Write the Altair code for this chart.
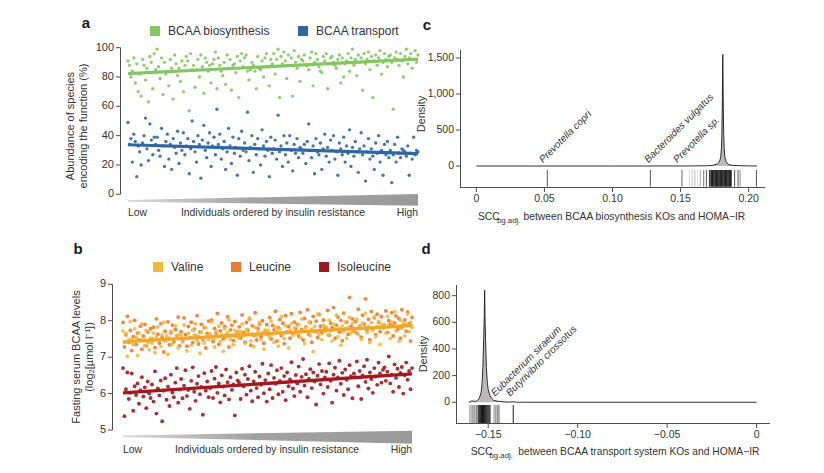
import altair as alt
import pandas as pd

FONT = "Liberation Sans"
TXT = "#333333"
AXC = "#4d4d4d"

# ---------------- panel a data ----------------
bcaa_biosynthesis = [
    91, 88, 80, 84, 93, 76, 89, 70, 82, 67, 92, 88, 78, 86, 63, 94, 90, 72, 96, 85,
    99, 87, 79, 93, 68, 90, 82, 84, 74, 92, 86, 65, 95, 89, 81, 86, 77, 91, 70, 88,
    94, 91, 57, 96, 85, 88, 73, 85, 92, 80, 95, 87, 69, 93, 90, 84, 88, 76, 89, 92,
    97, 72, 93, 88, 84, 81, 90, 75, 95, 86, 92, 71, 88, 89, 83, 94, 66, 91, 96, 87,
    93, 95, 84, 78, 85, 90, 88, 84, 72, 94, 86, 85, 91, 80, 93, 96, 87, 74, 92, 89,
    96, 82, 92, 99, 66, 94, 89, 97, 91, 79, 95, 88, 93, 67, 98, 90, 86, 94, 77, 92,
    91, 95, 88, 88, 85, 93, 97, 74, 90, 96, 92, 87, 84, 83, 94, 91, 96, 72, 89, 93,
    94, 90, 88, 86, 92, 95, 76, 93, 80, 89, 91, 96, 84, 93, 99, 88, 92, 81, 95, 90,
    93, 71, 96, 89, 92, 97, 85, 94, 66, 91, 95, 88, 93, 98, 82, 90, 96, 92, 87, 94,
    95, 90, 58, 93, 97, 92, 88, 96, 91, 80, 94, 99, 89, 93, 96, 86, 92, 98, 90, 95,
]
bcaa_transport = [
    49, 34, 38, 22, 41, 36, 12, 33, 29, 20, 35, 40, 52, 31, 23, 48, 37, 27, 39, 34,
    39, 30, 26, 45, 33, 19, 36, 41, 24, 34, 17, 38, 32, 28, 43, 21, 35, 30, 42, 27,
    33, 38, 14, 31, 50, 36, 29, 22, 40, 34, 11, 37, 47, 30, 25, 35, 42, 19, 33, 39,
    27, 58, 34, 41, 24, 31, 36, 17, 29, 45, 33, 21, 39, 28, 32, 13, 38, 26, 43, 30,
    35, 29, 56, 23, 32, 40, 15, 34, 27, 38, 31, 20, 44, 33, 26, 36, 30, 12, 39, 28,
    31, 37, 24, 54, 29, 33, 19, 40, 27, 35, 22, 40, 30, 16, 34, 28, 38, 25, 32, 31,
    28, 34, 21, 36, 48, 30, 25, 33, 14, 38, 29, 27, 35, 17, 31, 41, 26, 32, 22, 37,
    30, 40, 24, 29, 13, 35, 31, 27, 39, 22, 33, 28, 44, 19, 32, 26, 36, 29, 15, 31,
    42, 27, 33, 9, 29, 38, 24, 31, 26, 17, 35, 28, 40, 22, 30, 13, 34, 27, 36, 25,
    30, 8, 27, 34, 22, 39, 28, 25, 31, 30, 29, 26, 33, 13, 28, 24, 39, 27, 30, 29,
]
fit_biosynthesis = [82.3, 92.2]
fit_transport = [33.8, 27.8]
wedge_a_top = [-3.9, 0.2]
wedge_a_bottom = [-5.0, -7.8]
a_yticks = [0, 20, 40, 60, 80, 100]
a_ytick_labels = ["0", "20", "40", "60", "80", "100"]

# ---------------- panel b data ----------------
valine = [
    7.72, 7.41, 7.65, 7.02, 7.48, 7.98, 7.49, 7.35, 7.78, 7.54, 7.05, 7.67, 7.46, 7.91, 7.49, 7.32, 7.73, 7.41, 7.20, 7.52,
    7.38, 7.66, 7.12, 7.55, 7.83, 7.47, 7.29, 7.61, 7.95, 7.44, 7.58, 7.08, 7.52, 7.71, 7.36, 7.49, 7.86, 7.57, 7.25, 7.63,
    7.59, 7.42, 7.88, 7.51, 7.17, 7.66, 7.54, 7.33, 7.74, 7.60, 7.92, 7.45, 7.57, 7.10, 7.69, 7.52, 7.39, 7.81, 7.58, 7.48,
    7.64, 7.97, 7.50, 7.28, 7.71, 7.58, 7.85, 7.43, 7.62, 7.16, 7.78, 7.55, 7.67, 8.02, 7.49, 7.61, 7.34, 7.73, 7.57, 7.69,
    7.52, 7.70, 7.91, 7.61, 7.38, 7.76, 7.66, 8.08, 7.45, 7.63, 7.29, 7.82, 7.59, 7.71, 7.95, 7.48, 7.67, 7.22, 7.74, 7.62,
    7.73, 7.56, 7.99, 7.64, 7.41, 7.83, 7.70, 7.30, 7.77, 8.12, 7.62, 7.51, 7.86, 7.69, 7.25, 7.74, 7.92, 7.60, 7.81, 7.66,
    7.66, 7.89, 7.54, 8.05, 7.74, 7.37, 7.81, 7.70, 7.96, 7.59, 7.77, 7.15, 7.84, 7.69, 8.18, 7.63, 7.75, 7.48, 7.88, 7.71,
    7.82, 7.61, 8.01, 7.73, 7.44, 7.90, 7.78, 8.15, 7.56, 7.79, 7.33, 7.86, 7.70, 7.97, 7.52, 7.81, 8.09, 7.67, 7.92, 7.75,
    7.77, 8.04, 7.62, 7.86, 7.49, 7.93, 7.80, 8.21, 7.68, 7.84, 7.40, 7.95, 7.74, 8.11, 7.57, 7.83, 7.98, 7.35, 7.88, 7.79,
    7.90, 7.66, 8.12, 7.83, 7.51, 7.96, 7.87, 8.25, 7.72, 7.84, 7.44, 8.01, 7.79, 7.93, 7.58, 7.89, 8.18, 7.70, 7.95, 7.82,
]
leucine = [
    7.95, 7.28, 7.61, 8.12, 7.40, 7.73, 7.18, 7.56, 8.01, 7.35, 7.66, 7.47, 7.85, 7.22, 7.58, 7.90, 7.31, 7.69, 7.44, 7.78,
    7.50, 7.82, 7.26, 8.05, 7.63, 7.39, 7.92, 7.55, 7.14, 7.71, 7.48, 7.97, 7.34, 7.67, 7.88, 7.42, 7.76, 7.59, 8.10, 7.31,
    7.70, 7.45, 8.08, 7.62, 7.30, 7.84, 7.53, 7.96, 7.40, 7.77, 7.58, 8.14, 7.36, 7.69, 7.90, 7.48, 7.81, 7.25, 7.65, 7.99,
    7.57, 8.02, 7.43, 7.79, 7.66, 8.20, 7.35, 7.72, 7.94, 7.50, 7.84, 7.61, 8.11, 7.28, 7.75, 7.88, 7.46, 7.98, 7.63, 7.70,
    7.83, 7.52, 8.16, 7.68, 7.41, 7.95, 7.74, 8.05, 7.33, 7.86, 7.60, 8.22, 7.47, 7.79, 7.91, 7.56, 8.00, 7.38, 7.72, 7.89,
    7.64, 8.09, 7.50, 7.87, 7.75, 8.26, 7.44, 7.81, 8.03, 7.59, 7.93, 7.37, 8.14, 7.70, 7.84, 7.52, 8.19, 7.66, 7.96, 7.78,
    7.90, 7.58, 8.23, 7.76, 7.47, 8.06, 7.83, 8.30, 7.62, 7.95, 7.41, 8.12, 7.71, 7.99, 7.54, 8.17, 7.85, 7.67, 8.02, 7.80,
    7.74, 8.28, 7.60, 7.93, 7.81, 8.36, 7.52, 7.88, 8.10, 7.69, 8.01, 7.45, 8.21, 7.77, 7.96, 7.63, 8.64, 7.84, 8.05, 7.72,
    7.98, 7.66, 8.32, 7.85, 7.55, 8.15, 7.91, 8.60, 7.73, 8.04, 7.48, 8.25, 7.80, 8.08, 7.62, 8.18, 7.95, 7.70, 8.11, 7.87,
    7.82, 8.27, 7.68, 8.00, 7.90, 8.22, 7.58, 7.94, 8.13, 7.76, 8.06, 7.52, 8.30, 7.86, 8.02, 7.71, 8.24, 7.92, 7.44, 8.09,
]
isoleucine = [
    6.70, 5.38, 6.12, 6.58, 5.85, 6.02, 6.55, 5.53, 6.20, 5.96, 6.28, 5.72, 6.09, 6.45, 5.92, 6.17, 5.60, 6.33, 6.00, 5.88,
    6.25, 5.78, 6.61, 5.45, 6.14, 5.95, 6.36, 5.24, 6.08, 6.42, 5.83, 6.19, 5.66, 6.52, 6.03, 5.90, 6.30, 6.70, 5.75, 6.11,
    6.40, 5.87, 6.22, 6.64, 5.93, 6.10, 5.58, 6.35, 6.72, 6.05, 5.80, 6.27, 6.48, 5.98, 6.18, 5.42, 6.56, 6.08, 6.33, 5.90,
    6.15, 6.62, 5.88, 6.41, 6.73, 6.02, 6.28, 5.76, 6.50, 6.19, 5.95, 6.66, 6.31, 5.84, 6.45, 6.10, 6.25, 5.40, 6.58, 6.36,
    6.30, 5.85, 6.68, 6.20, 6.52, 5.97, 6.40, 6.75, 6.08, 5.79, 6.33, 6.60, 6.15, 5.90, 6.47, 6.24, 6.82, 6.01, 6.37, 5.78,
    6.55, 6.12, 6.78, 5.88, 6.43, 6.27, 6.64, 5.98, 6.35, 6.70, 6.05, 6.48, 5.82, 6.58, 6.20, 6.39, 6.86, 6.14, 5.93, 6.51,
    6.28, 6.74, 6.05, 6.46, 6.95, 6.22, 6.53, 5.90, 6.40, 6.67, 6.15, 6.58, 6.33, 5.70, 6.49, 6.81, 6.25, 6.62, 6.00, 6.44,
    6.60, 6.18, 6.83, 6.35, 5.75, 6.52, 6.71, 6.08, 6.44, 6.90, 6.27, 6.57, 5.96, 6.66, 6.38, 6.12, 6.78, 6.48, 5.87, 6.55,
    6.45, 6.88, 6.20, 6.62, 5.85, 6.50, 6.75, 6.32, 6.93, 6.14, 6.58, 6.40, 6.02, 6.70, 6.47, 6.24, 6.85, 6.55, 6.30, 6.65,
    6.72, 6.35, 6.60, 7.02, 6.28, 6.52, 6.05, 6.80, 6.43, 6.68, 6.18, 6.57, 6.73, 6.00, 6.50, 6.85, 6.38, 6.62, 6.12, 6.70,
]
fit_valine_leucine = [7.42, 7.87]
fit_isoleucine = [6.02, 6.54]
wedge_b_top = [4.85, 4.98]
wedge_b_bottom = [4.81, 4.62]
b_yticks = [5, 6, 7, 8, 9]
b_ytick_labels = ["5", "6", "7", "8", "9"]
ir_labels = ["Low", "High"]

# ---------------- panel c data ----------------
c_scc = [0.0, 0.10, 0.160, 0.165, 0.168, 0.170, 0.172, 0.174, 0.176, 0.177, 0.178, 0.179,
         0.1795, 0.180, 0.1803, 0.1806, 0.1808, 0.181, 0.1812, 0.1814, 0.1817, 0.182,
         0.1825, 0.183, 0.184, 0.185, 0.187, 0.189, 0.192, 0.196, 0.200, 0.206]
c_density = [0, 0, 1, 4, 2, 6, 5, 12, 22, 30, 48, 85, 130, 240, 420, 780, 1150, 1550,
             1150, 780, 420, 250, 130, 80, 45, 25, 12, 8, 6, 3, 2, 0]
c_rug = [0.0521, 0.1278, 0.151, 0.1565, 0.1585, 0.1605, 0.1625, 0.1645, 0.167, 0.169, 0.1712,
         0.1722, 0.1728, 0.1734, 0.1740, 0.1746, 0.1752, 0.1758, 0.1764, 0.1770, 0.1776,
         0.1782, 0.1788, 0.1794, 0.1800, 0.1806, 0.1812, 0.1818, 0.1824, 0.1830, 0.1836,
         0.1842, 0.1848, 0.1854, 0.1860, 0.1866, 0.1872, 0.1897, 0.1922, 0.1937, 0.2057]
c_rug_shade = ["#555555", "#555555", "#666666", "#d5d5d5", "#c8c8c8", "#bbbbbb", "#dddddd", "#aaaaaa",
               "#777777", "#555555", "#333333"] + ["#1a1a1a"] * 26 + ["#444444", "#555555", "#888888", "#555555"]
c_species = ["Prevotella copri", "Bacteroides vulgatus", "Prevotella sp."]
c_species_scc = [0.049, 0.1263, 0.1476]
c_xticks = [0, 0.05, 0.10, 0.15, 0.20]
c_xtick_labels = ["0", "0.05", "0.10", "0.15", "0.20"]
c_yticks = [0, 500, 1000, 1500]
c_ytick_labels = ["0", "500", "1,000", "1,500"]

# ---------------- panel d data ----------------
d_scc = [-0.1608, -0.159, -0.157, -0.156, -0.155, -0.154, -0.1535, -0.153, -0.1525, -0.1522,
         -0.152, -0.1518, -0.1515, -0.151, -0.1505, -0.150, -0.149, -0.148, -0.147, -0.145,
         -0.143, -0.141, -0.138, -0.136, -0.134, -0.13, 0.0]
d_density = [0, 10, 6, 14, 30, 70, 130, 260, 480, 650, 840, 650, 480, 260, 150, 95, 50, 28,
             15, 8, 6, 3, 1, 4, 0, 0, 0]
d_rug = [-0.1602, -0.1595, -0.1589, -0.1583, -0.1578, -0.1571, -0.1565,
         -0.1556, -0.1550, -0.1544, -0.1538, -0.1532, -0.1526, -0.1520, -0.1514, -0.1508,
         -0.1502, -0.1496, -0.1490,
         -0.1467, -0.1462, -0.1457, -0.1452, -0.1448, -0.1443, -0.1439, -0.1360]
d_rug_shade = ["#8a8a8a", "#c0c0c0", "#8a8a8a", "#c0c0c0", "#8a8a8a", "#c0c0c0", "#8a8a8a"] + \
              ["#1a1a1a"] * 12 + \
              ["#8a8a8a", "#c0c0c0", "#8a8a8a", "#c0c0c0", "#8a8a8a", "#c0c0c0", "#8a8a8a", "#333333"]
d_species = ["Eubacterium siraeum", "Butyrivibrio crossotus"]
d_species_scc = [-0.1462, -0.1378]
d_xticks = [-0.15, -0.10, -0.05, 0]
d_xtick_labels = ["−0.15", "−0.10", "−0.05", "0"]
d_yticks = [0, 200, 400, 600, 800]
d_ytick_labels = ["0", "200", "400", "600", "800"]

# ---------------- helpers ----------------
def idx(values):
    return list(range(1, len(values) + 1))


N = len(bcaa_biosynthesis)
ends = [1, N]
ONE = alt.Data(values=[{}])

wedge_grad = alt.LinearGradient(
    gradient="linear",
    stops=[alt.GradientStop(color="#d8d8d8", offset=0),
           alt.GradientStop(color="#a2a2a2", offset=0.45),
           alt.GradientStop(color="#9a9a9a", offset=1)],
    x1=0, x2=1, y1=0, y2=0)


def series_legend(x, y):
    return alt.Legend(orient="none", legendX=x, legendY=y, direction="horizontal", title=None,
                      symbolType="square", symbolSize=100, symbolStrokeWidth=0, symbolOpacity=1,
                      labelFontSize=12, labelOffset=7, columnPadding=26)


def note(text, x, y, size, weight="normal", align="left", color=TXT, angle=0):
    return alt.Chart(ONE).mark_text(
        text=text, fontSize=size, fontWeight=weight, align=align, baseline="middle",
        color=color, font=FONT, angle=angle).encode(x=alt.value(x), y=alt.value(y))


def y_axis(sy, ticks, labels, x_px, lo, hi, size):
    df = pd.DataFrame({"v": ticks, "t": labels})
    line = alt.Chart(ONE).mark_rule(color=AXC, strokeWidth=1).encode(
        x=alt.value(x_px), y=alt.YDatum(datum=lo, scale=sy, axis=None), y2=alt.datum(hi))
    tk = alt.Chart(df).mark_rule(color=AXC, strokeWidth=1).encode(
        y=alt.Y("v:Q", scale=sy, axis=None), x=alt.value(x_px - 4.5), x2=alt.value(x_px))
    lb = alt.Chart(df).mark_text(align="right", baseline="middle", fontSize=size, color=TXT,
                                 font=FONT).encode(
        y=alt.Y("v:Q", scale=sy, axis=None), x=alt.value(x_px - 6.5), text="t:N")
    return [line, tk, lb]


def x_axis(sx, ticks, labels, y_px, lo, hi, size):
    df = pd.DataFrame({"v": ticks, "t": labels})
    line = alt.Chart(ONE).mark_rule(color=AXC, strokeWidth=1).encode(
        y=alt.value(y_px), x=alt.XDatum(datum=lo, scale=sx, axis=None), x2=alt.datum(hi))
    tk = alt.Chart(df).mark_rule(color=AXC, strokeWidth=1).encode(
        x=alt.X("v:Q", scale=sx, axis=None), y=alt.value(y_px), y2=alt.value(y_px + 4.5))
    lb = alt.Chart(df).mark_text(align="center", baseline="middle", fontSize=size, color=TXT,
                                 font=FONT).encode(
        x=alt.X("v:Q", scale=sx, axis=None), y=alt.value(y_px + 11.5), text="t:N")
    return [line, tk, lb]


def ir_marks(sx, y_px, mid_x):
    low = alt.Chart(pd.DataFrame({"idx": [ends[0]], "t": [ir_labels[0]]})).mark_text(
        align="left", baseline="middle", fontSize=10.4, color=TXT, font=FONT).encode(
        x=alt.X("idx:Q", scale=sx, axis=None), y=alt.value(y_px), text="t:N")
    high = alt.Chart(pd.DataFrame({"idx": [ends[1]], "t": [ir_labels[1]]})).mark_text(
        align="right", baseline="middle", fontSize=10.4, color=TXT, font=FONT).encode(
        x=alt.X("idx:Q", scale=sx, axis=None), y=alt.value(y_px), text="t:N")
    mid = note("Individuals ordered by insulin resistance", mid_x, y_px, 10.4, align="center")
    return [low, high, mid]

# ---------------- panel a ----------------
sx_a = alt.Scale(domain=[1, N], range=[128, 418], nice=False, zero=False)
sy_a = alt.Scale(domain=[0, 100], range=[194.3, 47.7], nice=False, zero=False)
a_series = ["BCAA biosynthesis", "BCAA transport"]
a_cscale = alt.Scale(domain=a_series, range=["#84c761", "#2d66a3"])

df_a = pd.DataFrame({
    "idx": idx(bcaa_biosynthesis) + idx(bcaa_transport),
    "value": bcaa_biosynthesis + bcaa_transport,
    "series": [a_series[0]] * len(bcaa_biosynthesis) + [a_series[1]] * len(bcaa_transport),
})
df_a_fit = pd.DataFrame({"idx": ends * 2, "value": fit_biosynthesis + fit_transport,
                         "series": [a_series[0]] * 2 + [a_series[1]] * 2})
df_a_wedge = pd.DataFrame({"idx": ends, "top": wedge_a_top, "bottom": wedge_a_bottom})

wedge_a = alt.Chart(df_a_wedge).mark_area(color=wedge_grad).encode(
    x=alt.X("idx:Q", scale=sx_a, axis=None),
    y=alt.Y("top:Q", scale=sy_a, axis=None),
    y2="bottom:Q")
pts_a = alt.Chart(df_a).mark_circle(size=11, opacity=0.9).encode(
    x=alt.X("idx:Q", scale=sx_a, axis=None),
    y=alt.Y("value:Q", scale=sy_a, axis=None),
    color=alt.Color("series:N", scale=a_cscale, legend=series_legend(149, 25)))
fit_a = alt.Chart(df_a_fit).mark_line(strokeWidth=3.2).encode(
    x=alt.X("idx:Q", scale=sx_a, axis=None),
    y=alt.Y("value:Q", scale=sy_a, axis=None),
    color=alt.Color("series:N", scale=a_cscale, legend=None))
panel_a = alt.layer(wedge_a, pts_a, fit_a,
                    *y_axis(sy_a, a_yticks, a_ytick_labels, 120.5, 0, 100, 11),
                    *ir_marks(sx_a, 213.3, 273))

# ---------------- panel b ----------------
sx_b = alt.Scale(domain=[1, N], range=[123, 412], nice=False, zero=False)
sy_b = alt.Scale(domain=[5, 9], range=[430, 284.3], nice=False, zero=False)
b_series = ["Valine", "Leucine", "Isoleucine"]
b_cscale = alt.Scale(domain=b_series, range=["#f5b93a", "#eb7a2e", "#9c1a1e"])

df_b = pd.DataFrame({
    "idx": idx(leucine) + idx(valine) + idx(isoleucine),
    "value": leucine + valine + isoleucine,
    "series": [b_series[1]] * len(leucine) + [b_series[0]] * len(valine) + [b_series[2]] * len(isoleucine),
})
df_b_wedge = pd.DataFrame({"idx": ends, "top": wedge_b_top, "bottom": wedge_b_bottom})

wedge_b = alt.Chart(df_b_wedge).mark_area(color=wedge_grad).encode(
    x=alt.X("idx:Q", scale=sx_b, axis=None),
    y=alt.Y("top:Q", scale=sy_b, axis=None),
    y2="bottom:Q")
pts_b = alt.Chart(df_b).mark_circle(size=15, opacity=0.9).encode(
    x=alt.X("idx:Q", scale=sx_b, axis=None),
    y=alt.Y("value:Q", scale=sy_b, axis=None),
    color=alt.Color("series:N", scale=b_cscale, legend=series_legend(152, 261)))
fit_b1 = alt.Chart(pd.DataFrame({"idx": ends, "value": fit_valine_leucine})).mark_line(
    strokeWidth=3.4, color="#f2a72b").encode(
    x=alt.X("idx:Q", scale=sx_b, axis=None), y=alt.Y("value:Q", scale=sy_b, axis=None))
fit_b2 = alt.Chart(pd.DataFrame({"idx": ends, "value": fit_isoleucine})).mark_line(
    strokeWidth=3.4, color="#a3171d").encode(
    x=alt.X("idx:Q", scale=sx_b, axis=None), y=alt.Y("value:Q", scale=sy_b, axis=None))
panel_b = alt.layer(wedge_b, pts_b, fit_b1, fit_b2,
                    *y_axis(sy_b, b_yticks, b_ytick_labels, 112.5, 5, 9, 11),
                    *ir_marks(sx_b, 450, 267))

# ---------------- density panels ----------------
def density_panel(scc, dens, rug, shade, species, species_scc, sx, sy,
                  rug_top, rug_bottom, label_y, rug_w):
    area = alt.Chart(pd.DataFrame({"scc": scc, "density": dens})).mark_area(
        color="#9c9c9c", line={"color": "#1a1a1a", "strokeWidth": 0.9}).encode(
        x=alt.X("scc:Q", scale=sx, axis=None),
        y=alt.Y("density:Q", scale=sy, axis=None),
        y2=alt.datum(0))
    rugs = alt.Chart(pd.DataFrame({"scc": rug, "shade": shade})).mark_rule(strokeWidth=rug_w).encode(
        x=alt.X("scc:Q", scale=sx, axis=None),
        y=alt.YDatum(datum=rug_top, scale=sy, axis=None),
        y2=alt.datum(rug_bottom),
        color=alt.Color("shade:N", scale=None))
    labels = alt.Chart(pd.DataFrame({"scc": species_scc, "name": species})).mark_text(
        angle=315, align="left", baseline="alphabetic", fontStyle="italic", fontSize=10,
        color="#333333", font=FONT).encode(
        x=alt.X("scc:Q", scale=sx, axis=None),
        y=alt.YDatum(datum=label_y, scale=sy, axis=None),
        text="name:N")
    return [area, rugs, labels]


sx_c = alt.Scale(domain=[-0.012, 0.212], range=[460, 765], nice=False, zero=False)
sy_c = alt.Scale(domain=[-301, 1611], range=[187.7, 50], nice=False, zero=False)
panel_c = alt.layer(
    *density_panel(c_scc, c_density, c_rug, c_rug_shade, c_species, c_species_scc,
                   sx_c, sy_c, -55, -287, 38, 1),
    *y_axis(sy_c, c_yticks, c_ytick_labels, 460.5, -301, 1611, 10.5),
    *x_axis(sx_c, c_xticks, c_xtick_labels, 187.5, -0.012, 0.212, 10.5),
    note("Density", 422, 114, 11, align="center", angle=270),
)

sx_d = alt.Scale(domain=[-0.168, 0.0075], range=[456, 770], nice=False, zero=False)
sy_d = alt.Scale(domain=[-158, 880], range=[423.3, 285], nice=False, zero=False)
panel_d = alt.layer(
    *density_panel(d_scc, d_density, d_rug, d_rug_shade, d_species, d_species_scc,
                   sx_d, sy_d, -21, -158, 41.6, 1.1),
    *y_axis(sy_d, d_yticks, d_ytick_labels, 456.5, -158, 880, 10.5),
    *x_axis(sx_d, d_xticks, d_xtick_labels, 423.5, -0.168, 0.0075, 10.5),
    note("Density", 424, 354, 11, align="center", angle=270),
)

# ---------------- annotation text ----------------
notes = [
    note("a", 86, 23, 15, "bold", "center", "#1a1a1a"),
    note("b", 78, 249, 15, "bold", "center", "#1a1a1a"),
    note("c", 427, 25, 15, "bold", "center", "#1a1a1a"),
    note("d", 426, 249, 15, "bold", "center", "#1a1a1a"),
    note("Abundance of species", 71, 126, 11, align="center", angle=270),
    note("encoding the function (%)", 83.5, 126, 11, align="center", angle=270),
    note("Fasting serum BCAA levels", 77, 357, 11, align="center", angle=270),
    note("(log₂[µmol l⁻¹])", 89.5, 357, 11, align="center", angle=270),
    note("SCC", 478, 216.7, 10.3),
    note("bg.adj.", 497, 220.5, 7.8),
    note("between BCAA biosynthesis KOs and HOMA−IR", 523.5, 216.7, 10.3),
    note("SCC", 470.7, 451.7, 10.3),
    note("bg.adj.", 489.5, 455.5, 7.8),
    note("between BCAA transport system KOs and HOMA−IR", 518.3, 451.7, 10.3),
]

chart = alt.layer(panel_a, panel_b, panel_c, panel_d, *notes).resolve_scale(
    x="independent", y="independent", color="independent"
).properties(
    width=824, height=473, autosize=alt.AutoSizeParams(type="none"), padding=0
).configure_view(stroke=None).configure_legend(
    labelFont=FONT, labelColor=TXT
).configure_text(font=FONT)

chart.save("out.html", embed_options={"renderer": "svg", "actions": False})
